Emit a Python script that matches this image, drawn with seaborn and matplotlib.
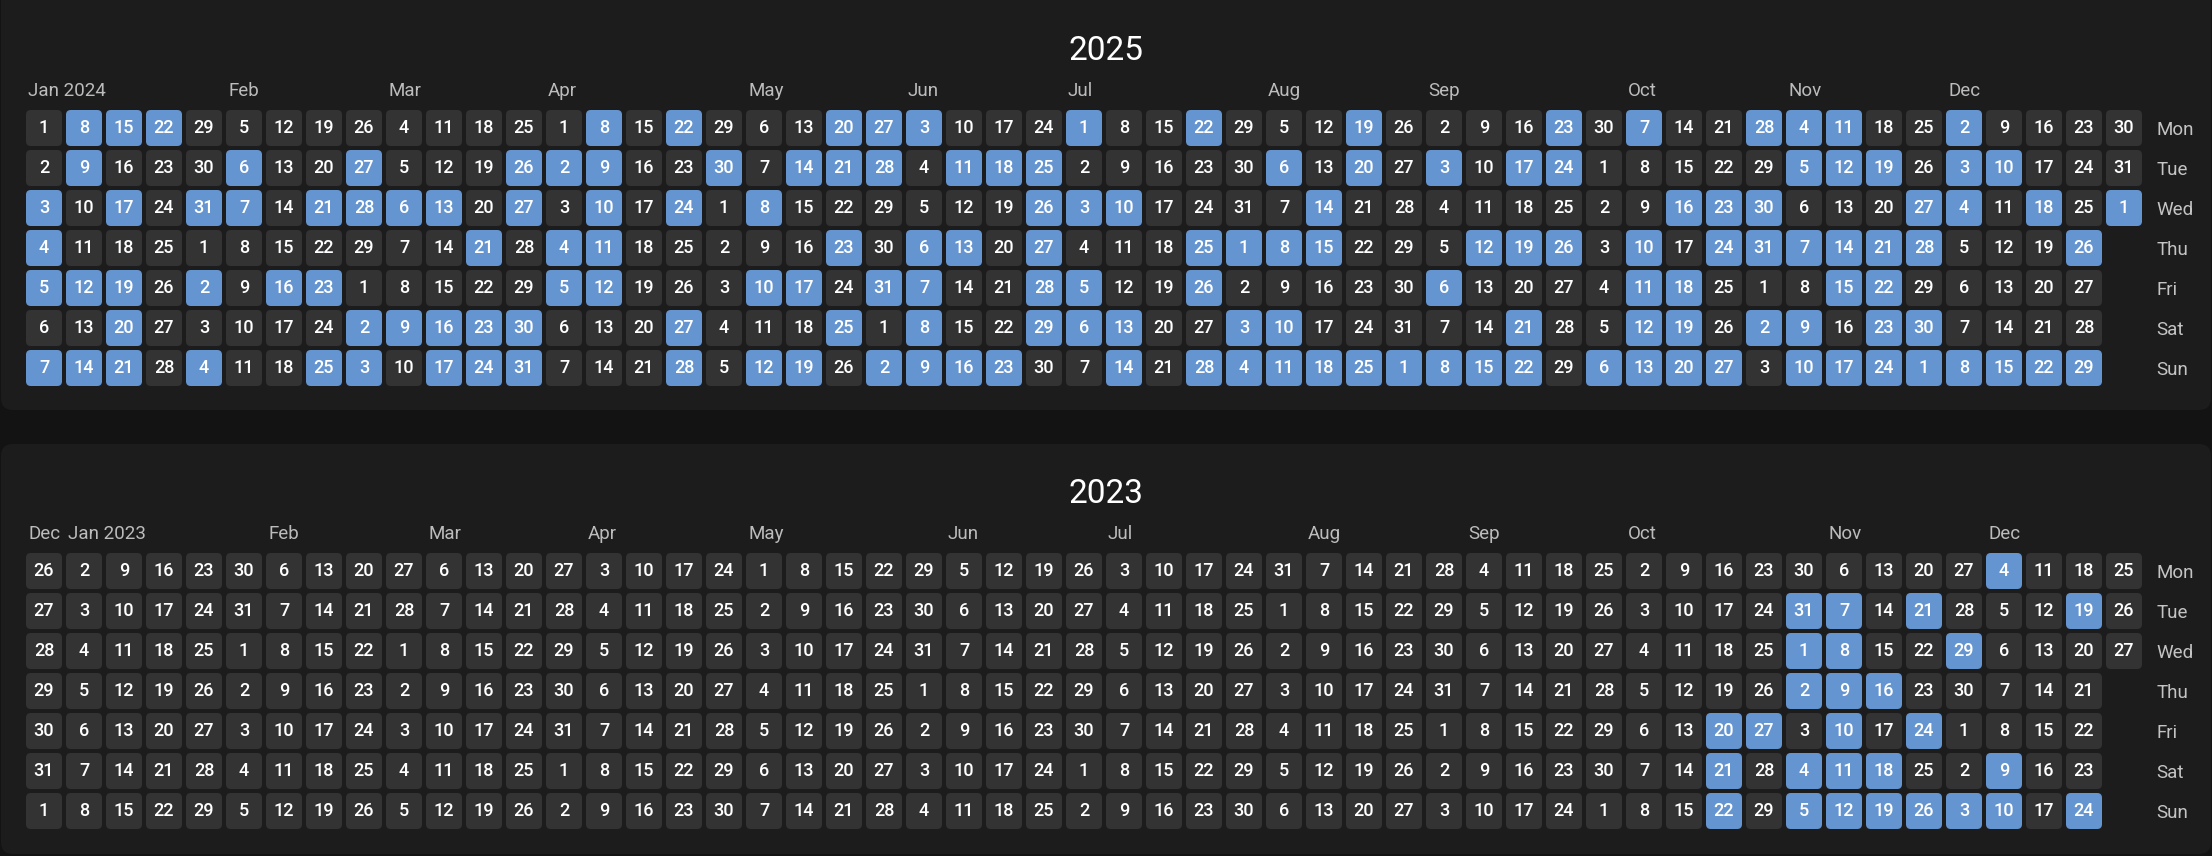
import numpy as np
import pandas as pd
import matplotlib
matplotlib.use("Agg")
import matplotlib.pyplot as plt
from matplotlib.colors import ListedColormap
from matplotlib.patches import FancyBboxPatch
from matplotlib.transforms import IdentityTransform
import seaborn as sns

# 上面板（标题 2025，实际日期 2024-01-01 ~ 2025-01-01）
top_title = "2025"
top_start, top_end = "2024-01-01", "2025-01-01"
top_jan = [3, 4, 5, 7, 8, 9, 12, 14, 15, 17, 19, 20, 21, 22, 31]
top_feb = [2, 4, 6, 7, 16, 21, 23, 25, 27, 28]
top_mar = [2, 3, 6, 9, 13, 16, 17, 21, 23, 24, 26, 27, 30, 31]
top_apr = [2, 4, 5, 8, 9, 10, 11, 12, 22, 24, 27, 28, 30]
top_may = [8, 10, 12, 14, 17, 19, 20, 21, 23, 25, 27, 28, 31]
top_jun = [2, 3, 6, 7, 8, 9, 11, 13, 16, 18, 23, 25, 26, 27, 28, 29]
top_jul = [1, 3, 5, 6, 10, 13, 14, 22, 25, 26, 28]
top_aug = [1, 3, 4, 6, 8, 10, 11, 14, 15, 18, 19, 20, 25]
top_sep = [1, 3, 6, 8, 12, 15, 17, 19, 21, 22, 23, 24, 26]
top_oct = [6, 7, 10, 11, 12, 13, 16, 18, 19, 20, 23, 24, 27, 28, 30, 31]
top_nov = [2, 4, 5, 7, 9, 10, 11, 12, 14, 15, 17, 19, 21, 22, 23, 24, 27, 28, 30]
top_dec = [1, 2, 3, 4, 8, 10, 15, 18, 22, 26, 29]
top_jan_next = [1]

# 下面板（标题 2023，日期 2022-12-26 ~ 2023-12-27）
bot_title = "2023"
bot_start, bot_end = "2022-12-26", "2023-12-27"
bot_oct = [20, 21, 22, 27, 31]
bot_nov = [1, 2, 4, 5, 7, 8, 9, 10, 11, 12, 16, 18, 19, 21, 24, 26, 29]
bot_dec = [3, 4, 9, 10, 19, 24]

day_names = ["Mon", "Tue", "Wed", "Thu", "Fri", "Sat", "Sun"]
month_abbr = ["Jan", "Feb", "Mar", "Apr", "May", "Jun",
              "Jul", "Aug", "Sep", "Oct", "Nov", "Dec"]

FIG_BG = "#131313"
PANEL_BG = "#1c1c1c"
CELL_OFF = "#333333"
CELL_ON = "#6595d0"
W, H = 2212, 856


def to_dates(year, month, days):
    return [pd.Timestamp(year, month, d) for d in days]


top_active = set()
for m, days in enumerate([top_jan, top_feb, top_mar, top_apr, top_may, top_jun,
                          top_jul, top_aug, top_sep, top_oct, top_nov, top_dec], start=1):
    top_active.update(to_dates(2024, m, days))
top_active.update(to_dates(2025, 1, top_jan_next))

bot_active = set()
bot_active.update(to_dates(2023, 10, bot_oct))
bot_active.update(to_dates(2023, 11, bot_nov))
bot_active.update(to_dates(2023, 12, bot_dec))


def build_grid(start, end, active):
    """按周排列：行 = 星期，列 = 周"""
    dates = pd.date_range(start, end, freq="D")
    n_weeks = (len(dates) + 6) // 7
    values = np.full((7, n_weeks), np.nan)
    labels = np.full((7, n_weeks), "", dtype=object)
    mondays = []
    for i, d in enumerate(dates):
        col, row = divmod(i, 7)
        values[row, col] = 1.0 if d in active else 0.0
        labels[row, col] = str(d.day)
        if row == 0:
            mondays.append(d)
    # 月份标签放在该月第一个周一所在列
    ticks, names = [], []
    prev = None
    for col, d in enumerate(mondays):
        if prev is None or d.month != prev:
            name = month_abbr[d.month - 1]
            if d.month == 1:
                name += f" {d.year}"
            ticks.append(col + 0.1)
            names.append(name)
        prev = d.month
    return values, labels, ticks, names


def px_axes(fig, left, top, width, height):
    return fig.add_axes([left / W, 1 - (top + height) / H, width / W, height / H])


def round_cells(ax, values):
    """把 heatmap 的方格换成圆角方格（颜色取自 heatmap 本身）"""
    mesh = ax.collections[0]
    colors = mesh.get_facecolors()
    n_rows, n_cols = values.shape
    k = 0
    for r in range(n_rows):
        for c in range(n_cols):
            if not np.isnan(values[r, c]):
                ax.add_patch(FancyBboxPatch(
                    (c + 0.05, r + 0.05), 0.9, 0.9,
                    boxstyle="round,pad=0,rounding_size=0.12",
                    facecolor=colors[k], edgecolor="none", zorder=1))
            k += 1
    mesh.set_visible(False)


def draw_panel(fig, title, start, end, active, panel_top, panel_bottom, grid_top):
    fig.patches.append(FancyBboxPatch(
        (1, H - panel_bottom), W - 2, panel_bottom - panel_top,
        boxstyle="round,pad=0,rounding_size=12", transform=IdentityTransform(),
        facecolor=PANEL_BG, edgecolor="none", zorder=-5, figure=fig))

    values, labels, ticks, names = build_grid(start, end, active)
    n_weeks = values.shape[1]
    ax = px_axes(fig, 24, grid_top, 40 * n_weeks, 280)
    ax.set_facecolor("none")
    sns.heatmap(values, ax=ax, cmap=ListedColormap([CELL_OFF, CELL_ON]),
                vmin=0, vmax=1, cbar=False, annot=labels, fmt="",
                annot_kws={"color": "white", "fontsize": 13, "fontweight": "medium",
                           "zorder": 3},
                linewidths=0)
    round_cells(ax, values)

    ax.xaxis.tick_top()
    ax.set_xticks(ticks)
    ax.set_xticklabels(names, ha="left", rotation=0, fontsize=13.5, color="#bcbcbc")
    ax.yaxis.tick_right()
    ax.set_yticks(np.arange(7) + 0.5)
    ax.set_yticklabels(day_names, rotation=0, ha="left", fontsize=13.5, color="#c4c4c4")
    ax.tick_params(axis="x", length=0, pad=5.5)
    ax.tick_params(axis="y", length=0, pad=9)
    for s in ax.spines.values():
        s.set_visible(False)
    ax.set_xlabel("")
    ax.set_ylabel("")

    fig.text(0.5, 1 - (grid_top - 57) / H, title, ha="center", va="center",
             fontsize=24, color="white", fontweight="normal")


plt.rcParams["font.family"] = ["Roboto", "DejaVu Sans"]

fig = plt.figure(figsize=(W / 100, H / 100), dpi=100, facecolor=FIG_BG)
draw_panel(fig, top_title, top_start, top_end, top_active, -20, 410, 108)
draw_panel(fig, bot_title, bot_start, bot_end, bot_active, 444, 854, 551)

fig.savefig("out.png", dpi=100, facecolor=FIG_BG)
